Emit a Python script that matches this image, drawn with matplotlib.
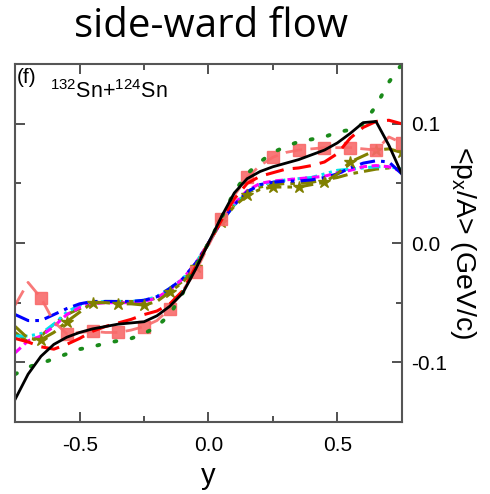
import numpy as np
import matplotlib
matplotlib.use('Agg')
import matplotlib.pyplot as plt

plt.rcParams['font.family'] = ['Liberation Sans', 'DejaVu Sans']
plt.rcParams['mathtext.default'] = 'regular'

# rapidity grid
rap = [-0.75, -0.7, -0.65, -0.6, -0.55, -0.5, -0.45, -0.4, -0.35, -0.3, -0.25,
       -0.2, -0.15, -0.1, -0.05, 0.0, 0.05, 0.1, 0.15, 0.2, 0.25, 0.3, 0.35,
       0.4, 0.45, 0.5, 0.55, 0.6, 0.65, 0.7, 0.75]

px_black = [-0.131, -0.110, -0.095, -0.085, -0.079, -0.075, -0.072, -0.070, -0.068, -0.067, -0.066,
            -0.061, -0.053, -0.042, -0.022, 0.0, 0.022, 0.042, 0.054, 0.060, 0.064, 0.067, 0.070,
            0.074, 0.078, 0.084, 0.092, 0.101, 0.102, 0.082, 0.058]
px_green = [-0.110, -0.104, -0.101, -0.097, -0.093, -0.089, -0.087, -0.084, -0.082, -0.080, -0.076,
            -0.070, -0.060, -0.042, -0.020, 0.0, 0.021, 0.043, 0.058, 0.068, 0.076, 0.081, 0.085,
            0.087, 0.089, 0.093, 0.095, 0.100, 0.115, 0.135, 0.150]
px_red = [-0.080, -0.083, -0.087, -0.089, -0.085, -0.080, -0.074, -0.070, -0.067, -0.064, -0.060,
          -0.057, -0.051, -0.040, -0.020, 0.0, 0.019, 0.037, 0.050, 0.056, 0.059, 0.062, 0.063,
          0.065, 0.068, 0.075, 0.088, 0.097, 0.102, 0.103, 0.100]
px_pink = [-0.052, -0.033, -0.046, -0.066, -0.076, -0.075, -0.074, -0.075, -0.075, -0.073, -0.070,
           -0.065, -0.055, -0.040, -0.024, -0.002, 0.020, 0.040, 0.055, 0.065, 0.072, 0.076, 0.078,
           0.079, 0.080, 0.080, 0.080, 0.079, 0.078, 0.089, 0.084]
px_olive_star = [-0.070, -0.080, -0.081, -0.075, -0.066, -0.058, -0.050, -0.050, -0.051, -0.051, -0.052,
                 -0.049, -0.041, -0.033, -0.020, 0.0, 0.018, 0.031, 0.040, 0.045, 0.047, 0.047, 0.047,
                 0.049, 0.051, 0.058, 0.068, 0.073, 0.078, 0.079, 0.076]
px_olive = [-0.075, -0.083, -0.078, -0.068, -0.060, -0.055, -0.051, -0.049, -0.049, -0.049, -0.049,
            -0.046, -0.040, -0.032, -0.018, 0.0, 0.018, 0.032, 0.042, 0.047, 0.049, 0.050, 0.050,
            0.051, 0.053, 0.055, 0.058, 0.060, 0.062, 0.063, 0.062]
px_blue = [-0.060, -0.065, -0.065, -0.060, -0.055, -0.051, -0.049, -0.049, -0.049, -0.049, -0.048,
           -0.045, -0.038, -0.030, -0.017, 0.0, 0.018, 0.032, 0.043, 0.049, 0.051, 0.052, 0.052,
           0.053, 0.055, 0.058, 0.063, 0.067, 0.069, 0.068, 0.058]
px_cyan = [-0.078, -0.078, -0.076, -0.068, -0.058, -0.052, -0.050, -0.049, -0.049, -0.049, -0.048,
           -0.045, -0.038, -0.030, -0.017, 0.0, 0.018, 0.032, 0.043, 0.049, 0.051, 0.053, 0.054,
           0.055, 0.058, 0.061, 0.062, 0.063, 0.064, 0.064, 0.062]
px_magenta = [-0.092, -0.082, -0.078, -0.070, -0.060, -0.054, -0.051, -0.050, -0.050, -0.050, -0.049,
              -0.046, -0.039, -0.030, -0.017, 0.0, 0.018, 0.033, 0.044, 0.050, 0.052, 0.053, 0.054,
              0.055, 0.056, 0.059, 0.061, 0.064, 0.065, 0.064, 0.060]

fig = plt.figure(figsize=(4.9, 4.94), dpi=100)
ax = fig.add_axes([0.031, 0.146, 0.789, 0.724])

ax.plot(rap, px_olive, color='#808000', lw=2.2, dashes=(5, 2, 1.5, 2))
ax.plot(rap, px_cyan, color='#00e5ee', lw=2.2, dashes=(4, 1.5, 1, 1.5, 1, 1.5))
ax.plot(rap, px_magenta, color='#ff00ff', lw=2.2, dashes=(2.5, 1.5))
ax.plot(rap, px_blue, color='#0000ff', lw=2.2, dashes=(5, 2, 1.2, 2))
ax.plot(rap, px_olive_star, color='#808000', lw=2.2, dashes=(5, 2, 1.5, 2),
        marker='*', ms=9, markevery=(2, 2))
ax.plot(rap, px_pink, color='#f86a6a', lw=2.0, alpha=0.9, dashes=(6, 3),
        marker='s', ms=8, markevery=(2, 2))
ax.plot(rap, px_red, color='#ff0000', lw=2.2, dashes=(6, 3))
ax.plot(rap, px_green, color='#1a8a1a', lw=2.8, dashes=(0.5, 4), dash_capstyle='round')
ax.plot(rap, px_black, color='black', lw=2.0)

ax.set_xlim(-0.75, 0.75)
ax.set_ylim(-0.15, 0.15)
ax.set_xticks([-0.5, 0.0, 0.5])
ax.set_xticklabels(['-0.5', '0.0', '0.5'])
ax.set_xticks([-0.25, 0.25], minor=True)
ax.set_yticks([-0.1, 0.0, 0.1])
ax.set_yticklabels(['-0.1', '0.0', '0.1'])
ax.set_yticks([-0.05, 0.05], minor=True)
ax.yaxis.tick_right()
ax.yaxis.set_label_position('right')
ax.tick_params(which='both', direction='in', top=True, bottom=True, left=True, right=True,
               labelsize=15, colors='#333333', labelcolor='black')
ax.tick_params(which='major', length=7, width=1.2)
ax.tick_params(which='minor', length=4, width=1.2)
ax.tick_params(axis='x', pad=10)
ax.tick_params(axis='y', pad=7)
for s in ax.spines.values():
    s.set_color('#555555')
    s.set_linewidth(1.5)

ax.set_xlabel('y', fontsize=21, labelpad=5)
ax.set_ylabel('<p$_x$/A> (GeV/c)', fontsize=20.5, rotation=270, labelpad=22)
ax.text(0.005, 0.99, '(f)', transform=ax.transAxes,
        fontsize=15, va='top', ha='left')
ax.text(0.09, 0.955, '$^{132}$Sn+$^{124}$Sn', transform=ax.transAxes,
        fontsize=15.5, va='top', ha='left')

fig.text(0.43, 0.945, 'side-ward flow', fontsize=29, ha='center', va='center',
         family=['Open Sans', 'DejaVu Sans'])

fig.savefig('out.png', dpi=100)
